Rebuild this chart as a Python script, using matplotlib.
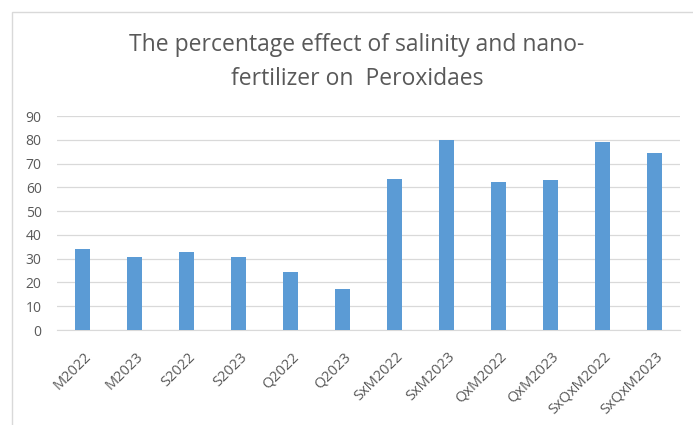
import matplotlib.pyplot as plt
from matplotlib.patches import Rectangle
from matplotlib.transforms import ScaledTranslation

# Peroxidase response (%) per treatment
treatments = ['M2022', 'M2023', 'S2022', 'S2023', 'Q2022', 'Q2023',
              'SxM2022', 'SxM2023', 'QxM2022', 'QxM2023', 'SxQxM2022', 'SxQxM2023']
effect = [34.1, 30.8, 32.7, 30.8, 24.5, 17.1,
          63.5, 79.9, 62.1, 63.1, 78.9, 74.3]
yticks = list(range(0, 100, 10))

text_color = '#595959'
plt.rcParams['font.family'] = ['Open Sans', 'DejaVu Sans']

fig = plt.figure(figsize=(6.93, 4.25), dpi=100)

# light chart frame
fig.patches.append(Rectangle((12 / 693, -0.1), 1.2, (425 - 12) / 425 + 0.1,
                             transform=fig.transFigure, fill=False,
                             edgecolor='#D9D9D9', linewidth=1.0))

ax = fig.add_axes([57 / 693, 1 - 330 / 425, (680 - 57) / 693, (330 - 116) / 425])
ax.bar(range(len(treatments)), effect, width=0.29, color='#5B9BD5', zorder=3)

ax.set_xlim(-0.5, len(treatments) - 0.5)
ax.set_ylim(0, 90)
ax.set_yticks(yticks)
ax.set_xticks(range(len(treatments)))
ax.set_xticklabels(treatments, rotation=45, ha='right', va='top',
                   rotation_mode='anchor')
ax.tick_params(axis='both', length=0, colors=text_color, labelsize=10)
ax.tick_params(axis='y', pad=11)
ax.tick_params(axis='x', pad=14, labelsize=10.5)
shift = ScaledTranslation(1 / 100, 0, fig.dpi_scale_trans)
for lbl in ax.get_xticklabels():
    lbl.set_transform(lbl.get_transform() + shift)
ax.grid(axis='y', color='#D9D9D9', linewidth=0.9, zorder=0)
for side in ['top', 'right', 'left']:
    ax.spines[side].set_visible(False)
ax.spines['bottom'].set_color('#D9D9D9')

fig.text(357 / 693, 1 - 62 / 425,
         'The percentage effect of salinity and nano-\nfertilizer on  Peroxidaes',
         ha='center', va='center', fontsize=16.5, color=text_color, linespacing=1.6)

fig.savefig('out.png', dpi=100)
